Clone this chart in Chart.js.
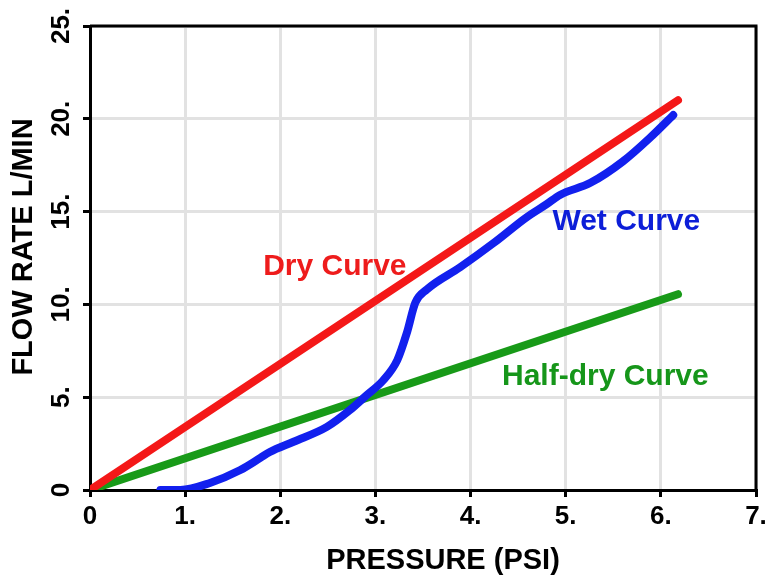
<!DOCTYPE html>
<html>
<head>
<meta charset="utf-8">
<script src="https://cdn.jsdelivr.net/npm/chart.js@4/dist/chart.umd.min.js"></script>
<style>
    html, body { margin: 0; padding: 0; background: #fff; }
    #wrap { width: 777px; height: 578px; }
</style>
</head>
<body>
<div id="wrap"><canvas id="chart" width="777" height="578"></canvas></div>
<script>
// Pressure (psi) vs flow rate (L/min)
const dryX = [0, 6.18];
const dryY = [0, 21.0];

const halfDryX = [0, 6.18];
const halfDryY = [0, 10.55];

const wetX = [0.74, 0.95, 1.26, 1.58, 1.79, 1.89, 2.14, 2.49, 2.73, 2.91, 3.08, 3.23, 3.33, 3.42, 3.54, 3.89, 4.24, 4.59, 4.8, 4.94, 5.26, 5.6, 5.89, 6.13];
const wetY = [0, 0, 0.38, 1.08, 1.73, 2.05, 2.6, 3.4, 4.3, 5.12, 5.9, 7.0, 8.46, 10.1, 10.8, 12.0, 13.3, 14.7, 15.4, 15.9, 16.55, 17.7, 19.0, 20.2];

const xTicks = [0, 1, 2, 3, 4, 5, 6, 7];
const yTicks = [0, 5, 10, 15, 20, 25];

// curve labels: text, anchor in data units
const curveLabels = [
    { text: 'Dry Curve', x: 1.82, y: 11.6, color: '#ee1c1c' },
    { text: 'Wet Curve', x: 4.86, y: 14.0, color: '#0c1ed8' },
    { text: 'Half-dry Curve', x: 4.33, y: 5.66, color: '#16961a' }
];

const toPoints = (xs, ys) => xs.map((x, i) => ({ x: x, y: ys[i] }));
const tickText = v => v === 0 ? '0' : v + '.';
const FONT = '"Liberation Sans", Arial, sans-serif';

// frame, rotated y tick labels, axis titles and curve labels
const decorPlugin = {
    id: 'decor',
    afterDraw(chart) {
        const { ctx, chartArea, scales } = chart;
        ctx.save();

        // top + right frame lines
        ctx.strokeStyle = '#000';
        ctx.lineWidth = 3;
        ctx.beginPath();
        ctx.moveTo(chartArea.left, chartArea.top);
        ctx.lineTo(chartArea.right, chartArea.top);
        ctx.lineTo(chartArea.right, chartArea.bottom);
        ctx.stroke();

        // y tick labels, rotated
        ctx.fillStyle = '#000';
        ctx.font = 'bold 26px ' + FONT;
        ctx.textAlign = 'center';
        ctx.textBaseline = 'middle';
        yTicks.forEach(v => {
            const py = scales.y.getPixelForValue(v);
            ctx.save();
            ctx.translate(62, py);
            ctx.rotate(-Math.PI / 2);
            ctx.fillText(tickText(v), 0, 0);
            ctx.restore();
        });

        // axis titles
        ctx.font = 'bold 29px ' + FONT;
        ctx.save();
        ctx.translate(24, 247);
        ctx.rotate(-Math.PI / 2);
        ctx.fillText('FLOW RATE L/MIN', 0, 0);
        ctx.restore();

        ctx.fillText('PRESSURE (PSI)', 443, 561);

        // curve labels
        ctx.font = 'bold 30px ' + FONT;
        ctx.textAlign = 'left';
        ctx.textBaseline = 'alphabetic';
        curveLabels.forEach(l => {
            ctx.fillStyle = l.color;
            ctx.fillText(l.text, scales.x.getPixelForValue(l.x), scales.y.getPixelForValue(l.y));
        });

        ctx.restore();
    }
};

const lineStyle = {
    showLine: true,
    pointRadius: 0,
    borderWidth: 8,
    borderCapStyle: 'round',
    borderJoinStyle: 'round',
    fill: false
};

new Chart(document.getElementById('chart'), {
    type: 'scatter',
    data: {
        datasets: [
            { ...lineStyle, label: 'Dry Curve', data: toPoints(dryX, dryY), borderColor: '#f41818', order: 1 },
            { ...lineStyle, label: 'Wet Curve', data: toPoints(wetX, wetY), borderColor: '#1220ee', tension: 0.4, cubicInterpolationMode: 'monotone', order: 2 },
            { ...lineStyle, label: 'Half-dry Curve', data: toPoints(halfDryX, halfDryY), borderColor: '#189a18', order: 3 }
        ]
    },
    options: {
        responsive: false,
        animation: false,
        layout: { padding: { left: 0, top: 26, right: 21, bottom: 0 } },
        plugins: {
            legend: { display: false },
            tooltip: { enabled: false }
        },
        scales: {
            x: {
                type: 'linear',
                min: 0,
                max: 7,
                afterBuildTicks: s => { s.ticks = xTicks.map(v => ({ value: v })); },
                afterFit: s => { s.height = 88; },
                border: { color: '#000', width: 3 },
                grid: { color: '#e2e2e2', lineWidth: 3, tickColor: '#000', tickLength: 7, tickWidth: 3 },
                ticks: {
                    color: '#000',
                    font: { family: FONT, size: 26, weight: 'bold' },
                    padding: 4,
                    maxRotation: 0,
                    callback: v => tickText(v)
                }
            },
            y: {
                type: 'linear',
                min: 0,
                max: 25,
                afterBuildTicks: s => { s.ticks = yTicks.map(v => ({ value: v })); },
                afterFit: s => { s.width = 90; },
                border: { color: '#000', width: 3 },
                grid: { color: '#e2e2e2', lineWidth: 3, tickColor: '#000', tickLength: 7, tickWidth: 3 },
                ticks: { display: false }
            }
        }
    },
    plugins: [decorPlugin]
});
</script>
</body>
</html>
